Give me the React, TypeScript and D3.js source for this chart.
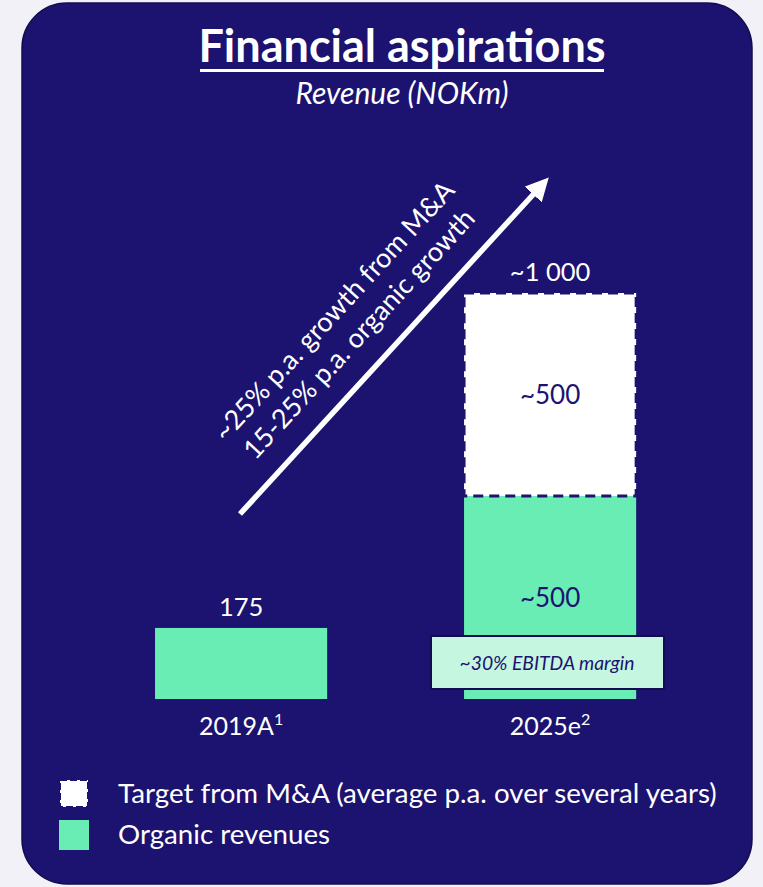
import React from "react";
import * as d3 from "d3";

const categories = ["2019A", "2025e"];
const footnotes = ["1", "2"];
const organic = [175, 500];
const mna = [0, 500];
const totalLabels = ["175", "~1 000"];
const organicInnerLabels = ["", "~500"];
const mnaInnerLabels = ["", "~500"];
const arrowTexts = ["~25% p.a. growth from M&A", "15-25% p.a. organic growth"];
const legendItems = ["Target from M&A (average p.a. over several years)", "Organic revenues"];

const W = 763;
const H = 887;
const NAVY = "#1c1370";
const GREEN = "#6aedb5";
const LIGHTGREEN = "#c4f6e0";
const FONT = "Lato, 'Open Sans', sans-serif";

export default function App() {
  const x = d3.scaleBand<string>().domain(categories).range([86.6, 704.6]).paddingInner(0.443).paddingOuter(0.2215);
  const y = d3.scaleLinear().domain([0, 1000]).range([699, 293]);
  const bw = x.bandwidth();

  const arrowStart: [number, number] = [240, 514];
  const arrowEnd: [number, number] = [549, 177];
  const ang = (Math.atan2(arrowEnd[1] - arrowStart[1], arrowEnd[0] - arrowStart[0]) * 180) / Math.PI;

  return (
    <svg width={W} height={H} style={{ position: "absolute", left: 0, top: 0, display: "block" }} fontFamily={FONT}>
      <rect x={0} y={0} width={W} height={H} fill="#f2f1f7" />
      <rect x={22} y={3} width={730} height={881} rx={45} ry={45} fill={NAVY} stroke="#140c50" strokeWidth={1.5} />

      <text x={402} y={62} textAnchor="middle" fill="#fff" fontSize={45} fontWeight={700}>Financial aspirations</text>
      <rect x={200} y={69} width={404} height={3} fill="#fff" />
      <text x={402} y={104} textAnchor="middle" fill="#fff" fontSize={30} fontStyle="italic">Revenue (NOKm)</text>

      {categories.map((c, i) => {
        const bx = x(c)!;
        const cx = bx + bw / 2;
        const orgTop = y(organic[i]);
        const mTop = y(organic[i] + mna[i]);
        return (
          <g key={c}>
            <rect x={bx} y={orgTop} width={bw} height={y(0) - orgTop} fill={GREEN} />
            {mna[i] > 0 && (
              <>
                <rect x={bx} y={mTop} width={bw} height={orgTop - mTop} fill="#fff" />
                <rect x={bx} y={mTop} width={bw} height={orgTop - mTop} fill="none" stroke={NAVY} strokeWidth={3} strokeDasharray="10,6" />
                <text x={cx} y={(mTop + orgTop) / 2 + 9} textAnchor="middle" fill={NAVY} fontSize={26}>{mnaInnerLabels[i]}</text>
              </>
            )}
            {organicInnerLabels[i] && (
              <text x={cx} y={orgTop + 111} textAnchor="middle" fill={NAVY} fontSize={26}>{organicInnerLabels[i]}</text>
            )}
            <text x={cx} y={mTop - 12} textAnchor="middle" fill="#fff" fontSize={25.5}>{totalLabels[i]}</text>
            <text x={cx} y={735} textAnchor="middle" fill="#fff" fontSize={25}>
              {c}
              <tspan fontSize={16} dy={-10}>{footnotes[i]}</tspan>
            </text>
          </g>
        );
      })}

      <rect x={431} y={636} width={233} height={53} fill={LIGHTGREEN} stroke="#140c50" strokeWidth={2} />
      <text x={547} y={670} textAnchor="middle" fill={NAVY} fontSize={19.3} fontStyle="italic">~30% EBITDA margin</text>

      <defs>
        <marker id="ah" viewBox="0 0 10 10" refX={5} refY={5} markerWidth={4.2} markerHeight={4.2} orient="auto" markerUnits="strokeWidth">
          <path d="M0,0 L10,5 L0,10 z" fill="#fff" />
        </marker>
      </defs>
      <line x1={arrowStart[0]} y1={arrowStart[1]} x2={arrowEnd[0] - 8} y2={arrowEnd[1] + 9} stroke="#fff" strokeWidth={5.5} markerEnd="url(#ah)" />
      <g transform={`translate(346,322) rotate(${ang})`}>
        <text x={0} y={-7} textAnchor="middle" fill="#fff" fontSize={27}>{arrowTexts[0]}</text>
        <text x={0} y={27} textAnchor="middle" fill="#fff" fontSize={27}>{arrowTexts[1]}</text>
      </g>

      <rect x={60} y={780} width={28} height={27} fill="#fff" stroke={NAVY} strokeWidth={2} strokeDasharray="7,3" />
      <text x={118} y={803} fill="#fff" fontSize={27.7}>{legendItems[0]}</text>
      <rect x={59} y={820} width={30} height={30} fill={GREEN} />
      <text x={118} y={844} fill="#fff" fontSize={27.7}>{legendItems[1]}</text>
    </svg>
  );
}
